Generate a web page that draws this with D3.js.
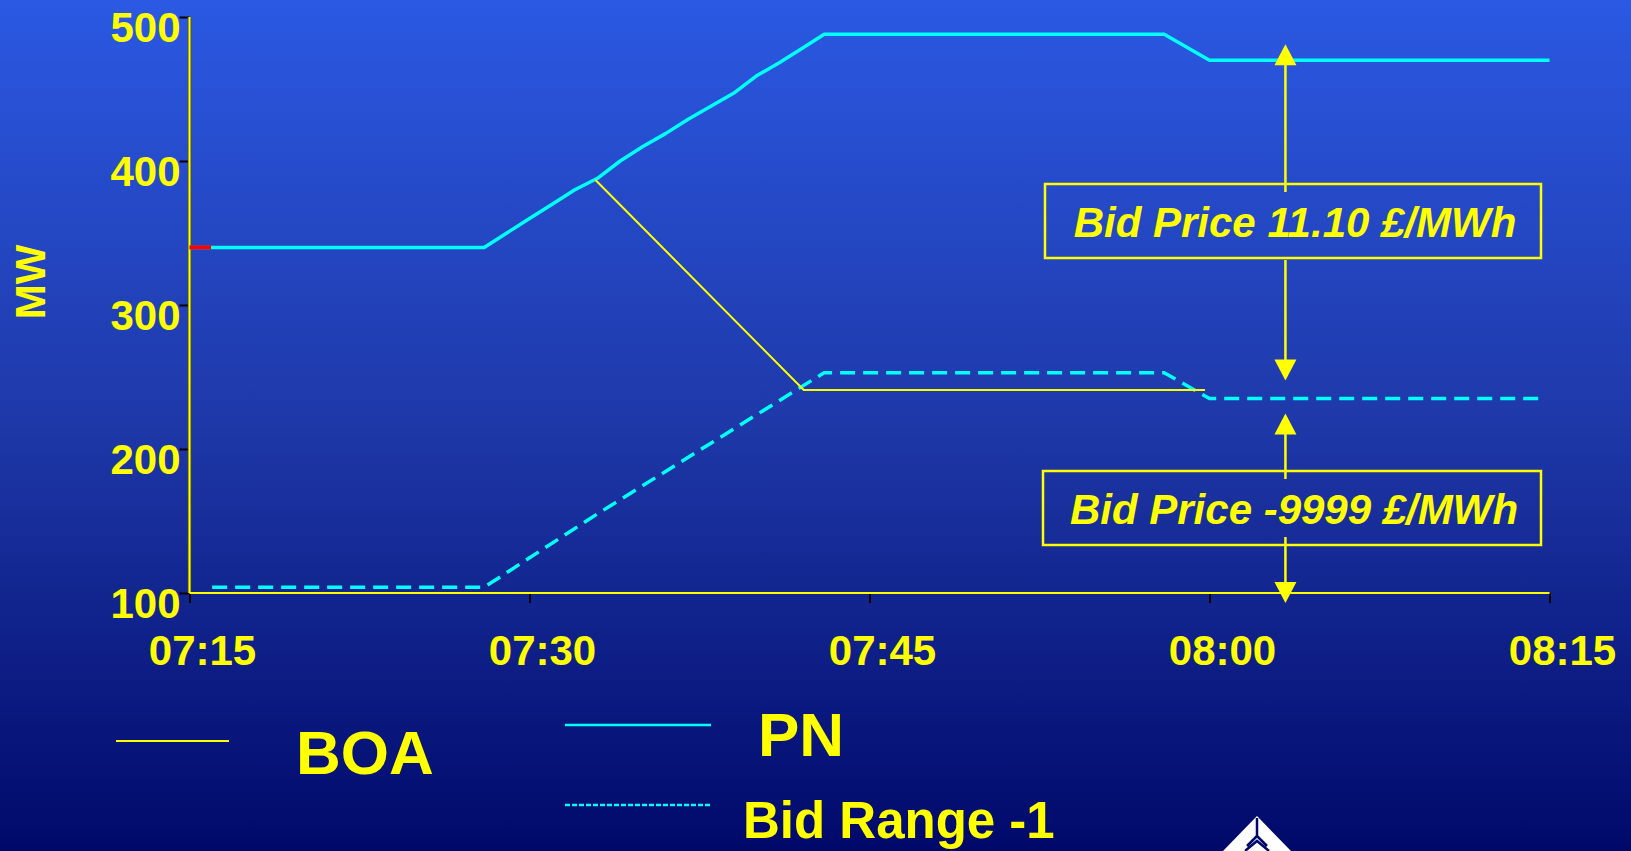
<!DOCTYPE html>
<html>
<head>
<meta charset="utf-8">
<script src="https://cdn.jsdelivr.net/npm/d3@7"></script>
<style>
  html, body { margin: 0; padding: 0; overflow: hidden; }
  svg { display: block; }
  text { font-family: "Liberation Sans", Arial, sans-serif; font-weight: bold; fill: #FFFF00; }
</style>
</head>
<body>
<svg id="chart" width="1631" height="851"></svg>
<script>
// ---- Data (x = minutes after 07:15, y = MW) ----
const xTickValues = [0, 15, 30, 45, 60];
const xTickLabels = ["07:15", "07:30", "07:45", "08:00", "08:15"];
const yTickValues = [100, 200, 300, 400, 500];

const pnMinutes = [0, 13, 14, 15, 16, 17, 18, 19, 20, 21, 22, 23, 24, 25, 26, 27, 28, 43, 45, 60];
const pnValues  = [340, 340, 350, 360, 370, 380, 388, 400, 410, 419, 429, 438, 447, 459, 468, 478, 488, 488, 470, 470];

const bidMinutes = [1, 13, 18, 23, 28, 43, 45, 59.8];
const bidValues  = [104, 104, 155, 204, 253, 253, 235, 235];

const boaMinutes = [17.9, 27.1, 44.8];
const boaValues  = [387, 241, 241];

const redMinutes = [0, 0.95];
const redValues  = [340, 340];

const legendLabels = ["BOA", "PN", "Bid Range -1"];
const annotationLabels = ["Bid Price 11.10 £/MWh", "Bid Price -9999 £/MWh"];
const annotationMinute = 48.35;

// ---- Setup ----
const W = 1631, H = 851;
const svg = d3.select("#chart");

const defs = svg.append("defs");
const grad = defs.append("linearGradient").attr("id", "bg").attr("x1", 0).attr("y1", 0).attr("x2", 0).attr("y2", 1);
grad.append("stop").attr("offset", "0").attr("stop-color", "#2B59E3");
grad.append("stop").attr("offset", "0.5").attr("stop-color", "#1E38A8");
grad.append("stop").attr("offset", "1").attr("stop-color", "#00096A");
svg.append("rect").attr("width", W).attr("height", H).attr("fill", "url(#bg)");

const x = d3.scaleLinear().domain([0, 60]).range([189.5, 1549.5]);
const y = d3.scaleLinear().domain([100, 500]).range([593, 17]);

const YELLOW = "#FFFF00", CYAN = "#00FFFF";

// ---- Axes ----
const yAxis = svg.append("g").attr("transform", `translate(${x(0)},0)`)
  .call(d3.axisLeft(y).tickValues(yTickValues).tickSize(10).tickPadding(0).tickFormat(d3.format("d")));
yAxis.select(".domain").remove();
yAxis.selectAll(".tick line").attr("stroke", "#000").attr("stroke-width", 2);
yAxis.selectAll(".tick text").attr("x", -9).attr("dy", 0).attr("y", 24)
  .style("font-size", "42px").attr("fill", YELLOW).attr("font-family", null);

const xAxis = svg.append("g").attr("transform", `translate(0,${y(100)})`)
  .call(d3.axisBottom(x).tickValues(xTickValues).tickSize(10).tickFormat((d, i) => xTickLabels[i]));
xAxis.select(".domain").remove();
xAxis.selectAll(".tick line").attr("stroke", "#000").attr("stroke-width", 2);
xAxis.selectAll(".tick text").attr("x", 12.5).attr("y", 72).attr("dy", 0)
  .style("font-size", "42px").attr("fill", YELLOW).attr("font-family", null);

// axis lines (yellow)
svg.append("line").attr("x1", x(0)).attr("x2", x(0)).attr("y1", y(500)).attr("y2", y(100))
  .attr("stroke", "#555500").attr("stroke-width", 3.5);
svg.append("line").attr("x1", x(0)).attr("x2", x(0)).attr("y1", y(500)).attr("y2", y(100))
  .attr("stroke", YELLOW).attr("stroke-width", 2);
svg.append("line").attr("x1", x(0)).attr("x2", x(60)).attr("y1", y(100)).attr("y2", y(100))
  .attr("stroke", YELLOW).attr("stroke-width", 2);

// y axis title
svg.append("text").attr("transform", "translate(45,282) rotate(-90)")
  .attr("text-anchor", "middle").style("font-size", "42px").text("MW");

// ---- Lines ----
const line = d3.line().x(d => x(d[0])).y(d => y(d[1]));
const zip = (a, b) => a.map((v, i) => [v, b[i]]);

svg.append("path").datum(zip(bidMinutes, bidValues)).attr("d", line)
  .attr("fill", "none").attr("stroke", CYAN).attr("stroke-width", 3.5).attr("stroke-dasharray", "15,8");
svg.append("path").datum(zip(pnMinutes, pnValues)).attr("d", line)
  .attr("fill", "none").attr("stroke", CYAN).attr("stroke-width", 3.5).attr("stroke-linejoin", "round");
svg.append("path").datum(zip(redMinutes, redValues)).attr("d", line)
  .attr("fill", "none").attr("stroke", "#FF0000").attr("stroke-width", 4);
svg.append("path").datum(zip(boaMinutes, boaValues)).attr("d", line)
  .attr("fill", "none").attr("stroke", YELLOW).attr("stroke-width", 2);

// ---- Annotations ----
const ax = x(annotationMinute);
function arrowHead(tipY, dir) { // dir -1 = pointing up, +1 = down
  const baseY = tipY - dir * 21;
  svg.append("path").attr("d", `M${ax},${tipY} L${ax - 11},${baseY} L${ax + 11},${baseY} Z`).attr("fill", YELLOW);
}
function vline(y1, y2) {
  svg.append("line").attr("x1", ax).attr("x2", ax).attr("y1", y1).attr("y2", y2)
    .attr("stroke", YELLOW).attr("stroke-width", 2.5);
}
// upper
vline(y(470) + 3, 192); vline(260, y(235) - 30);
arrowHead(y(470) - 16, -1);
arrowHead(y(235) - 18, 1);
// lower
vline(y(235) + 30, 479); vline(537, y(100) - 8);
arrowHead(y(235) + 15, -1);
arrowHead(y(100) + 10, 1);

const boxes = [
  { x0: 1045, x1: 1541, y0: 184, y1: 258, base: 237 },
  { x0: 1043, x1: 1541, y0: 471, y1: 545, base: 524 }
];
boxes.forEach((b, i) => {
  svg.append("rect").attr("x", b.x0).attr("y", b.y0).attr("width", b.x1 - b.x0).attr("height", b.y1 - b.y0)
    .attr("fill", "none").attr("stroke", YELLOW).attr("stroke-width", 2.5);
  svg.append("text").attr("x", (b.x0 + b.x1) / 2 + 2).attr("y", b.base).attr("text-anchor", "middle")
    .style("font-size", "42px").style("font-style", "italic").text(annotationLabels[i]);
});

// ---- Legend ----
svg.append("line").attr("x1", 116).attr("x2", 229).attr("y1", 741).attr("y2", 741)
  .attr("stroke", YELLOW).attr("stroke-width", 2);
svg.append("text").attr("x", 296).attr("y", 774).style("font-size", "62px").text(legendLabels[0]);

svg.append("line").attr("x1", 565).attr("x2", 711).attr("y1", 725).attr("y2", 725)
  .attr("stroke", CYAN).attr("stroke-width", 2.5);
svg.append("text").attr("x", 758).attr("y", 756).style("font-size", "62px").text(legendLabels[1]);

svg.append("line").attr("x1", 565).attr("x2", 711).attr("y1", 805).attr("y2", 805)
  .attr("stroke", CYAN).attr("stroke-width", 2.5).attr("stroke-dasharray", "5,2");
svg.append("text").attr("x", 743).attr("y", 838).style("font-size", "51px").text(legendLabels[2]);

// ---- Logo (partial, bottom) ----
const logo = svg.append("g");
logo.append("path").attr("d", "M1257,816 L1223,851 L1291,851 Z").attr("fill", "#FFFFFF");
logo.append("path").attr("d", "M1257,818 L1257,836 M1257,836 L1247,846 M1257,836 L1267,846 M1250,843 L1257,836 L1264,843 M1245,851 L1257,841 L1269,851")
  .attr("stroke", "#00096A").attr("stroke-width", 2.5).attr("fill", "none");
</script>
</body>
</html>
